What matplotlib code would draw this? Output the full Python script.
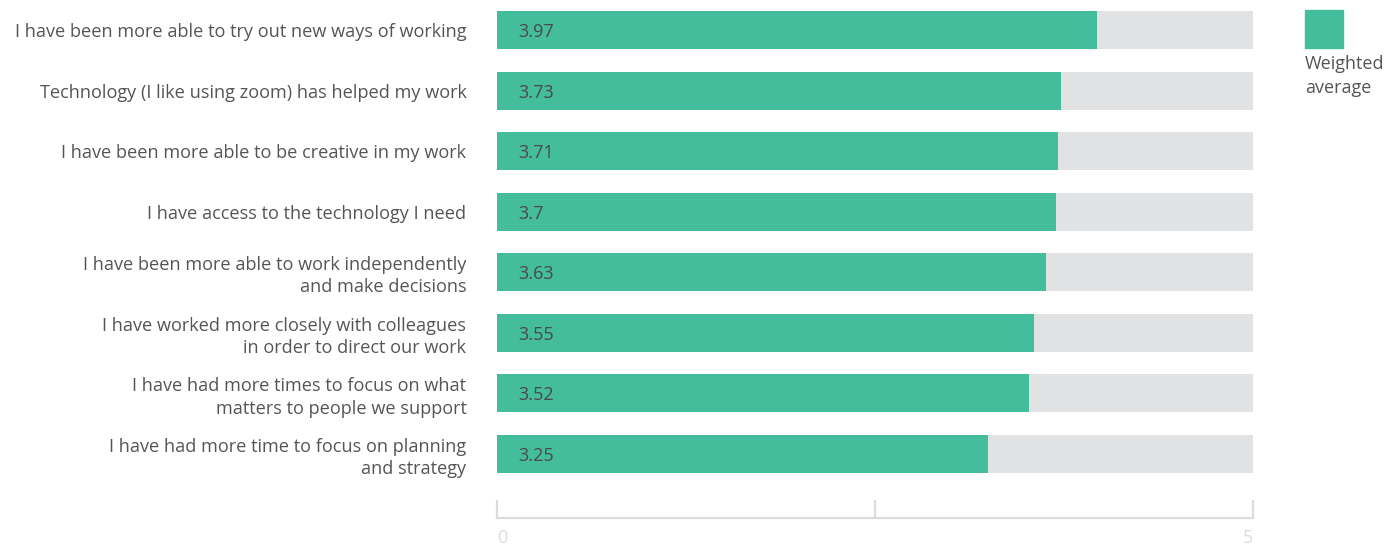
import matplotlib.pyplot as plt
from matplotlib.patches import Rectangle
import numpy as np

statements = [
    "I have been more able to try out new ways of working",
    "Technology (I like using zoom) has helped my work",
    "I have been more able to be creative in my work",
    "I have access to the technology I need",
    "I have been more able to work independently\nand make decisions",
    "I have worked more closely with colleagues\nin order to direct our work",
    "I have had more times to focus on what\nmatters to people we support",
    "I have had more time to focus on planning\nand strategy",
]
weighted_avg = [3.97, 3.73, 3.71, 3.7, 3.63, 3.55, 3.52, 3.25]
value_labels = ["3.97", "3.73", "3.71", "3.7", "3.63", "3.55", "3.52", "3.25"]
scale_max = 5
tick_values = [0, 2.5, 5]
tick_labels = ["0", "", "5"]

GREEN = "#44bd9c"
TRACK = "#e1e2e3"
TEXT = "#555555"
AXIS = "#dcdcdc"

plt.rcParams['font.family'] = ['Open Sans', 'DejaVu Sans']

W, H = 1392, 545
fig = plt.figure(figsize=(W / 100, H / 100), dpi=100)

# axes spans the bar area down to the baseline
left, right, top, bottom = 497, 1253, 0, 518
ax = fig.add_axes([left / W, 1 - bottom / H, (right - left) / W, (bottom - top) / H])

y = np.arange(len(statements))
row_px = (454 - 30) / (len(statements) - 1)
bar_h = 38 / row_px

ax.barh(y, [scale_max] * len(y), height=bar_h, color=TRACK, zorder=1)
ax.barh(y, weighted_avg, height=bar_h, color=GREEN, zorder=2)

for yi, lab in zip(y, value_labels):
    ax.text(0.14, yi, lab, va='center_baseline', ha='left', fontsize=13,
            color="#4a4a4a", zorder=3)

ax.set_xlim(0, scale_max)
ax.set_ylim((bottom - 30) / row_px, -30 / row_px)

ax.set_yticks(y)
ax.set_yticklabels(statements, fontsize=13.1, color=TEXT, linespacing=1.3)
ax.tick_params(axis='y', length=0, pad=22)

ax.set_xticks(tick_values)
ax.set_xticklabels(tick_labels, fontsize=13, color=AXIS)
ax.tick_params(axis='x', direction='in', length=13, width=1.6, color=AXIS, pad=8)
xt = ax.get_xticklabels()
xt[0].set_ha('left')
xt[-1].set_ha('right')

for side in ['top', 'right', 'left']:
    ax.spines[side].set_visible(False)
ax.spines['bottom'].set_color(AXIS)
ax.spines['bottom'].set_linewidth(1.6)

# legend swatch and caption
fig.add_artist(Rectangle((1305 / W, 1 - 48 / H), 38 / W, 38 / H,
                         transform=fig.transFigure, color=GREEN))
fig.text(1305 / W, 1 - 76 / H, "Weighted\naverage", ha='left', va='center',
         fontsize=13, color=TEXT, linespacing=1.45)

fig.savefig("out.png", dpi=100)
